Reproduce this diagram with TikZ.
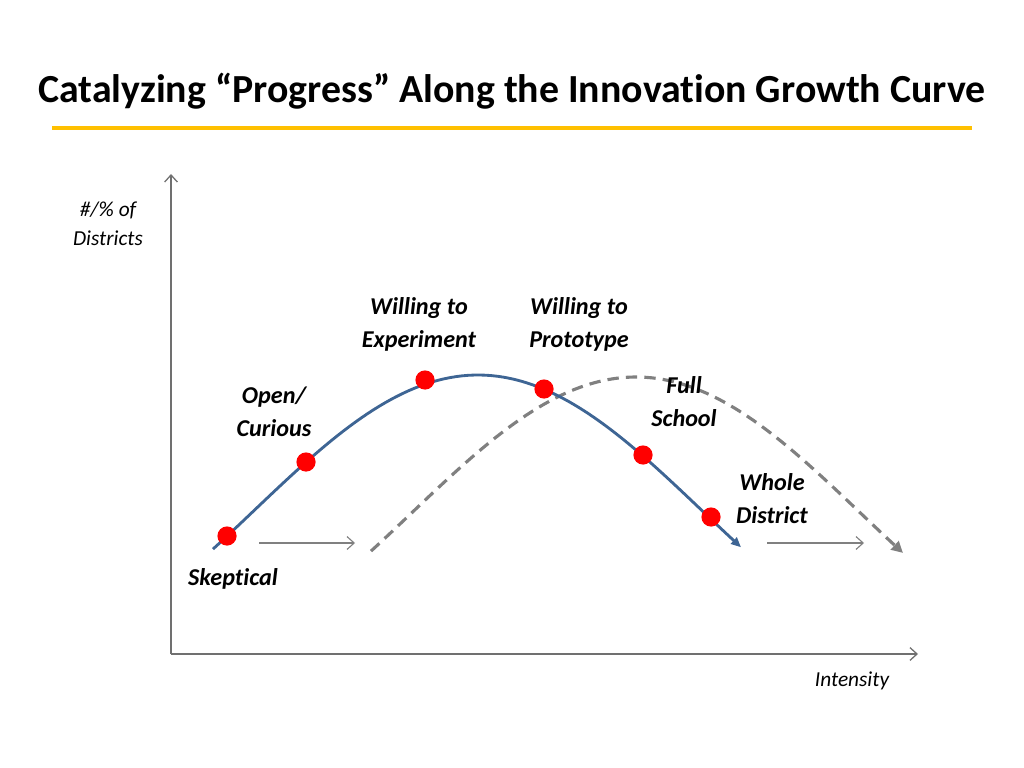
\documentclass[tikz,border=0pt]{standalone}
\usepackage{fontspec}
\setmainfont{Carlito}[Ligatures=NoCommon]
\usetikzlibrary{arrows.meta}
\definecolor{titleyellow}{HTML}{FFC000}
\definecolor{curveblue}{HTML}{3E6594}
\definecolor{axisgray}{HTML}{707070}
\definecolor{dashgray}{HTML}{808080}
\tikzset{
  lbl/.style={font=\fontsize{17}{23.2}\selectfont\bfseries\itshape, align=center, inner sep=0pt},
  axlbl/.style={font=\fontsize{15}{20.4}\selectfont\itshape, align=center, inner sep=0pt},
  dot/.style={circle, fill=red, draw=none, minimum size=13.5pt, inner sep=0pt},
  axis/.style={draw=axisgray, line width=0.9pt, -{Straight Barb[length=5pt,width=9pt]}},
  shift arrow/.style={draw=dashgray, line width=0.8pt, -{Straight Barb[length=5pt,width=9pt]}},
  bluecurve/.style={draw=curveblue, line width=2pt, -{Triangle[length=7pt,width=6pt]}},
  dashcurve/.style={draw=dashgray, line width=2.2pt, dash pattern=on 8pt off 5pt, -{Triangle[length=8pt,width=8pt]}}
}
\begin{document}
\begin{tikzpicture}[x=0.703125pt, y=-0.703125pt]
\useasboundingbox (0,0) rectangle (1024,768);
% title
\node[font=\fontsize{28}{32}\selectfont\bfseries, inner sep=0pt] (title) at (512,91) {Catalyzing “Progress” Along the Innovation Growth Curve};
\coordinate (ruleL) at (52,128);
\coordinate (ruleR) at (972,128);
\draw[titleyellow, line width=3pt] (ruleL) -- (ruleR);
% axes
\coordinate (origin) at (171,654);
\coordinate (ytop) at (171,174);
\coordinate (xend) at (918,654);
\draw[axis] (origin) -- (ytop);
\draw[axis] (origin) -- (xend);
\node[axlbl] (ylab) at (108,224) {\#/\% of\\Districts};
\node[axlbl] (xlab) at (852,681) {Intensity};
% curves
\draw[dashcurve] plot[domain=371:903, samples=90] (\x, {377+136*(1-cos(0.401*(\x-636)))});
\draw[bluecurve] plot[domain=213:741, samples=90] (\x, {375+136*(1-cos(0.401*(\x-478)))});
% shift arrows
\coordinate (s1a) at (259,543);
\coordinate (s1b) at (355,543);
\coordinate (s2a) at (767,543);
\coordinate (s2b) at (864,543);
\draw[shift arrow] (s1a) -- (s1b);
\draw[shift arrow] (s2a) -- (s2b);
% dots
\node[dot] (d1) at (227,536) {};
\node[dot] (d2) at (306,462) {};
\node[dot] (d3) at (425,380) {};
\node[dot] (d4) at (544,389) {};
\node[dot] (d5) at (643,455) {};
\node[dot] (d6) at (711,517) {};
% labels
\node[lbl] (l1) at (233,579) {Skeptical};
\node[lbl] (l2) at (274,412) {Open/\\Curious};
\node[lbl] (l3) at (419,324) {Willing to\\Experiment};
\node[lbl] (l4) at (579,324) {Willing to\\Prototype};
\node[lbl] (l5) at (684,402) {Full\\School};
\node[lbl] (l6) at (772,499) {Whole\\District};
\end{tikzpicture}
\end{document}
